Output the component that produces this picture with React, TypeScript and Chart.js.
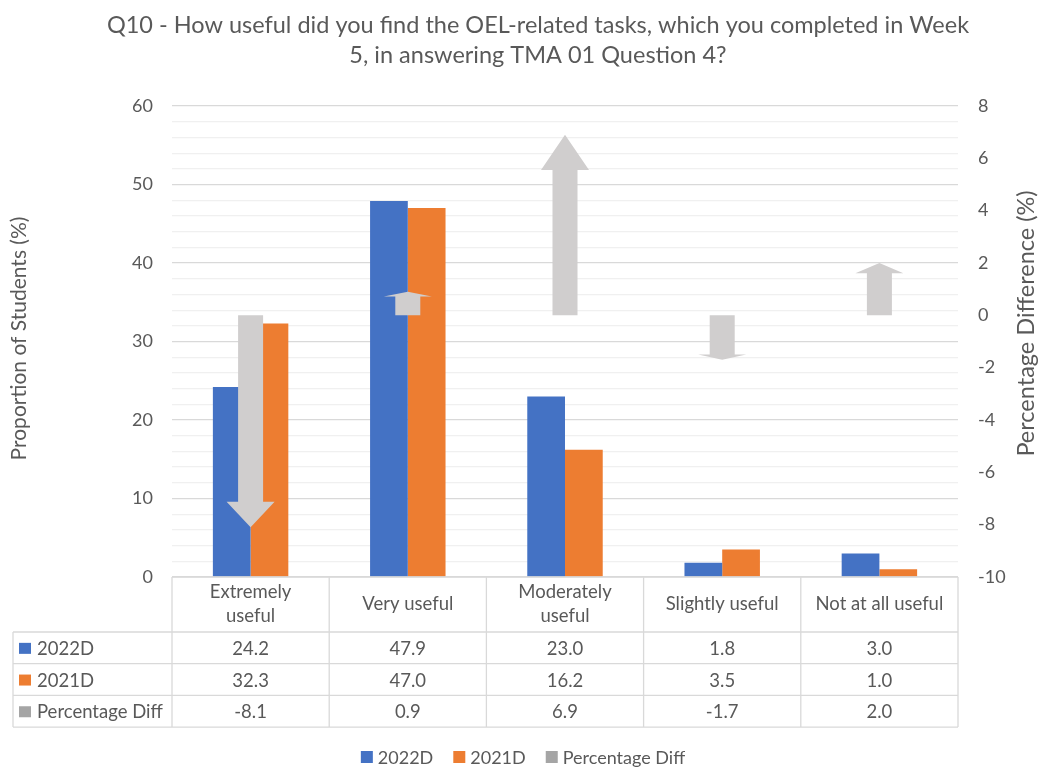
import React, { useEffect, useRef } from 'react';
import { Chart, registerables } from 'chart.js';

Chart.register(...registerables);

// ---- data ----
const categories = ['Extremely useful', 'Very useful', 'Moderately useful', 'Slightly useful', 'Not at all useful'];
const categoryLines = [['Extremely', 'useful'], ['Very useful'], ['Moderately', 'useful'], ['Slightly useful'], ['Not at all useful']];
const values2022D = [24.2, 47.9, 23.0, 1.8, 3.0];
const values2021D = [32.3, 47.0, 16.2, 3.5, 1.0];
const percentageDiff = [-8.1, 0.9, 6.9, -1.7, 2.0];
const seriesNames = ['2022D', '2021D', 'Percentage Diff'];
const titleLines = [
  'Q10 - How useful did you find the OEL-related tasks, which you completed in Week',
  '5, in answering TMA 01 Question 4?',
];
const leftAxisTitle = 'Proportion of Students (%)';
const rightAxisTitle = 'Percentage Difference (%)';

// ---- styles ----
const FONT = 'Lato, "Open Sans", sans-serif';
const TEXT = '#595959';
const BLUE = '#4472C4';
const ORANGE = '#ED7D31';
const ARROW = '#D0CECE';
const KEY_GREY = '#A5A5A5';
const BORDER = '#D9D9D9';

const seriesColors = [BLUE, ORANGE, KEY_GREY];

const decorPlugin = {
  id: 'decor',
  afterDatasetsDraw(chart: any) {
    const ctx = chart.ctx;
    const meta = chart.getDatasetMeta(2);
    const y1 = chart.scales.y1;
    const base = y1.getPixelForValue(0);
    const shaft = 25;
    const head = 48;
    ctx.save();
    ctx.fillStyle = ARROW;
    meta.data.forEach((pt: any) => {
      const x = pt.x;
      const tip = pt.y;
      const len = Math.abs(tip - base);
      const d = tip > base ? 1 : -1;
      const headLen = len * (d > 0 ? 0.12 : 0.195);
      const neck = tip - d * headLen;
      ctx.beginPath();
      ctx.moveTo(x - shaft / 2, base);
      ctx.lineTo(x - shaft / 2, neck);
      ctx.lineTo(x - head / 2, neck);
      ctx.lineTo(x, tip);
      ctx.lineTo(x + head / 2, neck);
      ctx.lineTo(x + shaft / 2, neck);
      ctx.lineTo(x + shaft / 2, base);
      ctx.closePath();
      ctx.fill();
    });
    ctx.restore();
  },
  afterDraw(chart: any) {
    const ctx = chart.ctx;
    const area = chart.chartArea;
    ctx.save();
    ctx.fillStyle = TEXT;
    ctx.textBaseline = 'middle';

    // title
    ctx.font = `23.5px ${FONT}`;
    ctx.textAlign = 'center';
    titleLines.forEach((t, i) => ctx.fillText(t, 538, 25 + i * 30));

    // axis titles
    const midY = (area.top + area.bottom) / 2;
    ctx.save();
    ctx.font = `21px ${FONT}`;
    ctx.translate(19, midY - 3);
    ctx.rotate(-Math.PI / 2);
    ctx.fillText(leftAxisTitle, 0, 0);
    ctx.restore();
    ctx.save();
    ctx.font = `23.5px ${FONT}`;
    ctx.translate(1026, midY - 18);
    ctx.rotate(-Math.PI / 2);
    ctx.fillText(rightAxisTitle, 0, 0);
    ctx.restore();

    // data table
    const n = categories.length;
    const colW = (area.right - area.left) / n;
    const top = area.bottom;
    const headerH = 55;
    const rowH = 31.7;
    const labelLeft = 13;
    const tableBottom = top + headerH + rowH * 3;
    ctx.strokeStyle = BORDER;
    ctx.lineWidth = 1.3;
    ctx.beginPath();
    ctx.moveTo(area.left, top);
    ctx.lineTo(area.right, top);
    for (let k = 0; k <= 3; k++) {
      const y = top + headerH + k * rowH;
      ctx.moveTo(labelLeft, y);
      ctx.lineTo(area.right, y);
    }
    for (let j = 0; j <= n; j++) {
      const x = area.left + j * colW;
      ctx.moveTo(x, top);
      ctx.lineTo(x, tableBottom);
    }
    ctx.moveTo(labelLeft, top + headerH);
    ctx.lineTo(labelLeft, tableBottom);
    ctx.stroke();

    ctx.font = `18.5px ${FONT}`;
    ctx.textAlign = 'center';
    categoryLines.forEach((lines, j) => {
      const cx = area.left + (j + 0.5) * colW;
      const cy = top + headerH / 2;
      lines.forEach((line, i) => {
        ctx.fillText(line, cx, cy + (i - (lines.length - 1) / 2) * 24);
      });
    });

    const rows = [values2022D, values2021D, percentageDiff];
    rows.forEach((vals, r) => {
      const cy = top + headerH + (r + 0.5) * rowH;
      ctx.fillStyle = seriesColors[r];
      ctx.fillRect(19, cy - 5, 12, 11);
      ctx.fillStyle = TEXT;
      ctx.textAlign = 'left';
      ctx.fillText(seriesNames[r], 37, cy + 1);
      ctx.textAlign = 'center';
      vals.forEach((v, j) => {
        ctx.fillText(v.toFixed(1), area.left + (j + 0.5) * colW, cy + 1);
      });
    });

    // legend
    ctx.font = `18px ${FONT}`;
    const legendY = 757;
    const box = 12;
    const gap = 5;
    const itemGap = 20;
    ctx.textAlign = 'left';
    const widths = seriesNames.map((s) => box + gap + ctx.measureText(s).width);
    const total = widths.reduce((a, b) => a + b, 0) + itemGap * (widths.length - 1);
    let x = 523 - total / 2;
    seriesNames.forEach((s, i) => {
      ctx.fillStyle = seriesColors[i];
      ctx.fillRect(x, legendY - box / 2, box, box);
      ctx.fillStyle = TEXT;
      ctx.fillText(s, x + box + gap, legendY + 1);
      x += widths[i] + itemGap;
    });

    ctx.restore();
  },
};

export default function App() {
  const canvasRef = useRef<HTMLCanvasElement | null>(null);

  useEffect(() => {
    document.body.style.margin = '0';
    const canvas = canvasRef.current;
    if (!canvas) return;
    const chart = new Chart(canvas, {
      type: 'bar',
      data: {
        labels: categories,
        datasets: [
          {
            label: seriesNames[0],
            data: values2022D,
            backgroundColor: BLUE,
            yAxisID: 'y',
            categoryPercentage: 0.48,
            barPercentage: 1,
            order: 2,
          },
          {
            label: seriesNames[1],
            data: values2021D,
            backgroundColor: ORANGE,
            yAxisID: 'y',
            categoryPercentage: 0.48,
            barPercentage: 1,
            order: 2,
          },
          {
            type: 'line',
            label: seriesNames[2],
            data: percentageDiff,
            yAxisID: 'y1',
            showLine: false,
            pointRadius: 0,
            borderColor: ARROW,
            backgroundColor: ARROW,
            order: 1,
          } as any,
        ],
      },
      options: {
        responsive: false,
        animation: false,
        layout: { padding: { top: 106, left: 0, right: 0, bottom: 0 } },
        plugins: {
          legend: { display: false },
          title: { display: false },
          tooltip: { enabled: false },
        },
        scales: {
          x: {
            grid: { display: false, drawTicks: false },
            border: { display: false },
            ticks: { display: false },
            afterFit: (s: any) => {
              s.height = 192;
            },
          },
          y: {
            position: 'left',
            min: 0,
            max: 60,
            ticks: {
              stepSize: 2,
              autoSkip: false,
              padding: 19,
              color: TEXT,
              font: { family: FONT, size: 18 },
              callback: (v: any) => (Number(v) % 10 === 0 ? String(v) : ''),
            },
            grid: {
              drawTicks: false,
              lineWidth: 1.2,
              color: (c: any) => (c.tick && c.tick.value % 10 === 0 ? '#D9D9D9' : '#F0F0F0'),
            },
            border: { display: false },
            afterFit: (s: any) => {
              s.width = 172;
            },
          },
          y1: {
            position: 'right',
            min: -10,
            max: 8,
            ticks: {
              stepSize: 2,
              padding: 20,
              color: TEXT,
              font: { family: FONT, size: 18 },
            },
            grid: { display: false, drawTicks: false },
            border: { display: false },
            afterFit: (s: any) => {
              s.width = 82;
            },
          },
        },
      },
      plugins: [decorPlugin],
    } as any);
    return () => chart.destroy();
  }, []);

  return (
    <div style={{ width: 1040, height: 769, background: '#fff' }}>
      <canvas ref={canvasRef} width={1040} height={769} style={{ display: 'block' }} />
    </div>
  );
}
